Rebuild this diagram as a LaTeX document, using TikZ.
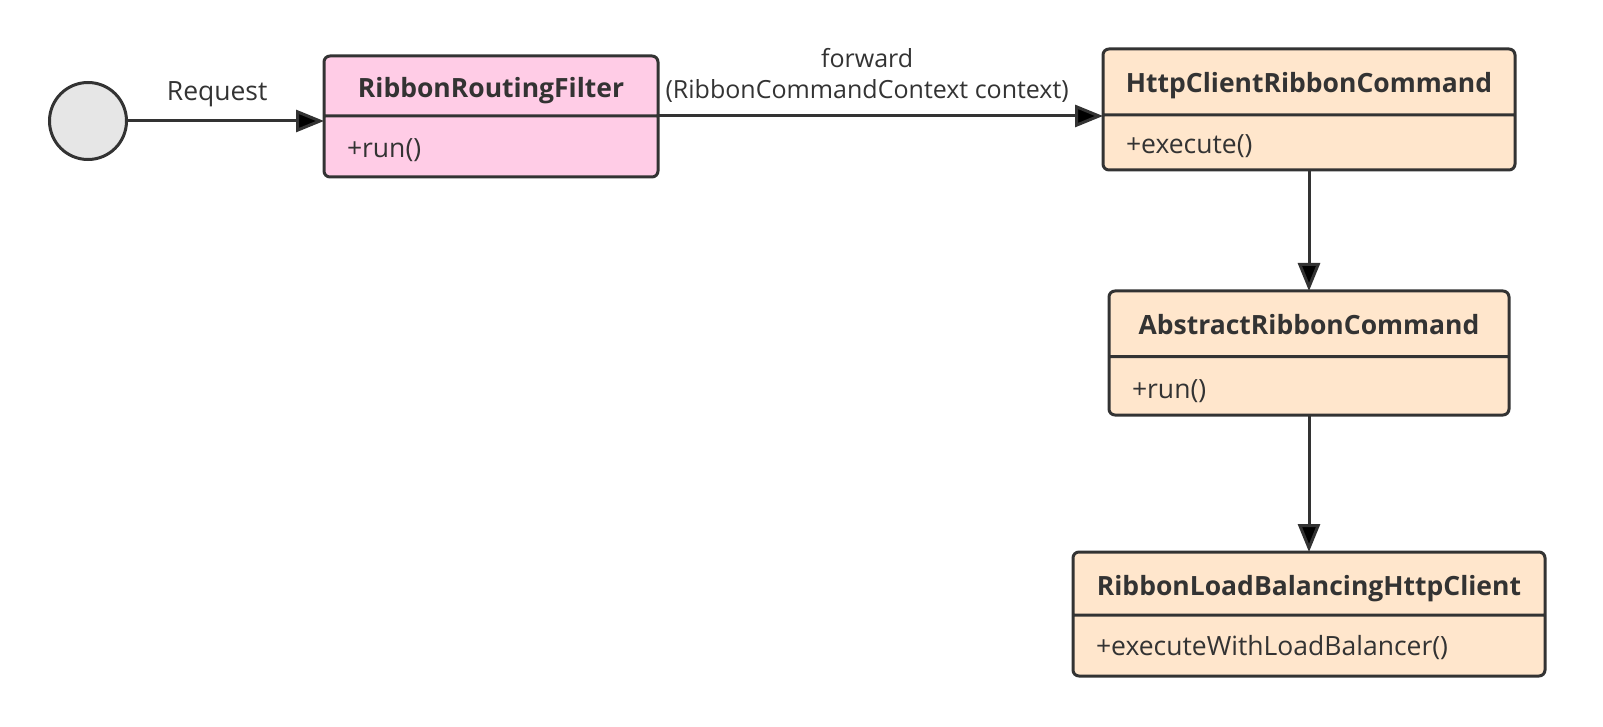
\documentclass[tikz,border=0pt]{standalone}
\usepackage{fontspec}
\setmainfont{Open Sans}
\usetikzlibrary{arrows.meta,positioning,shapes.multipart}
\definecolor{inkgray}{HTML}{333333}
\definecolor{filterpink}{HTML}{FFCCE6}
\definecolor{commandpeach}{HTML}{FFE6CC}
\definecolor{startgray}{HTML}{E6E6E6}
% #1 part height, #2 depth below baseline, #3 text
\newcommand{\classtitle}[3]{\rule[-#2]{0pt}{#1}\makebox[\hsize][c]{\bfseries #3}}
\newcommand{\classmethod}[3]{\rule[-#2]{0pt}{#1}\makebox[\hsize][l]{#3}}
\begin{document}
\begin{tikzpicture}[x=1pt, y=-1pt,
        font=\fontsize{26.5}{31}\selectfont, text=inkgray,
        UML/.style={rectangle split, rectangle split parts=2, draw=inkgray, line width=3pt, rounded corners=6pt, inner xsep=23pt, inner ysep=0pt, outer sep=0pt, align=left},
        Start/.style={circle, draw=inkgray, fill=startgray, line width=3pt, minimum size=77pt, inner sep=0pt},
        Flow/.style={-{Triangle[length=28pt, width=22pt]}, draw=inkgray, line width=3pt},
    ]
        \useasboundingbox (0,0) rectangle (1603,727);
        %Nodes
        \node[Start] (Client) at (88,121) {};
        \node[UML, fill=filterpink, text width=288pt, anchor=north west] (Filter) at (324,56) {\classtitle{57pt}{17pt}{RibbonRoutingFilter}\nodepart{two}\classmethod{58pt}{18pt}{+run()}};
        \node[UML, fill=commandpeach, text width=366pt, anchor=north west] (HttpCommand) at (1103,49) {\classtitle{63pt}{21pt}{HttpClientRibbonCommand}\nodepart{two}\classmethod{52pt}{15pt}{+execute()}};
        \node[UML, fill=commandpeach, text width=354pt] (AbstractCommand) [below=121pt of HttpCommand] {\classtitle{62.5pt}{20.5pt}{AbstractRibbonCommand}\nodepart{two}\classmethod{55.5pt}{15.5pt}{+run()}};
        \node[UML, fill=commandpeach, text width=426pt] (LoadBalancingClient) [below=137pt of AbstractCommand] {\classtitle{60pt}{18pt}{RibbonLoadBalancingHttpClient}\nodepart{two}\classmethod{58pt}{19pt}{+executeWithLoadBalancer()}};

        %Lines
        \draw[Flow] (Client.east) to node[above=9pt, pos=0.455] {Request} (Client.east -| Filter.west);
        \draw[Flow] (Filter.text split east) to node[above=9pt, pos=0.47, align=center, font=\fontsize{25}{31}\selectfont] {forward\\(RibbonCommandContext context)} (Filter.text split east -| HttpCommand.west);
        \draw[Flow] (HttpCommand.south) to (AbstractCommand.north);
        \draw[Flow] (AbstractCommand.south) to (LoadBalancingClient.north);
    \end{tikzpicture}
\end{document}
